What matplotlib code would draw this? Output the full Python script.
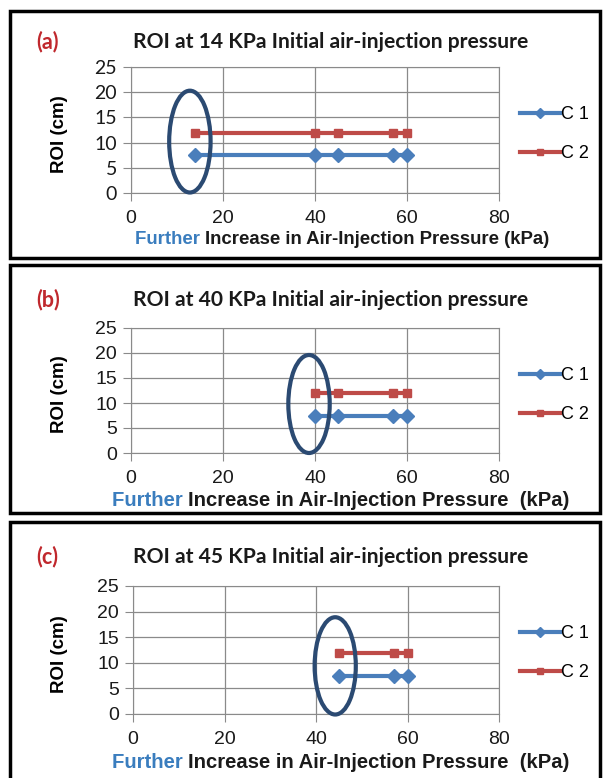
import matplotlib
matplotlib.use("Agg")
import matplotlib.pyplot as plt
from matplotlib.patches import Ellipse, Rectangle

plt.rcParams['font.family'] = ['Liberation Sans', 'DejaVu Sans']

# data
panel_tags = ['(a)', '(b)', '(c)']
initial_kpa = [14, 40, 45]
x_a = [14, 40, 45, 57, 60]
x_b = [40, 45, 57, 60]
x_c = [45, 57, 60]
c1_level = 7.5
c2_level = 12
xticks = [0, 20, 40, 60, 80]
yticks = [0, 5, 10, 15, 20, 25]
# ellipse (center x, center y, width, height) in data units
ellipses = [(12.8, 10.2, 9, 20.2), (38.7, 9.8, 9, 19.6), (44.2, 9.4, 9, 19.0)]

blue = '#4A7EBB'
red = '#BE4B48'
ring = '#2B4A72'
W, H = 605, 778

fig = plt.figure(figsize=(W / 100, H / 100), dpi=100)


def fx(px):
    return px / W


def fy(py):
    return 1 - py / H


def fit(texts, target):
    # scale font size so a run of texts spans target pixels
    fig.canvas.draw()
    r = fig.canvas.get_renderer()
    w = sum(t.get_window_extent(r).width for t in texts)
    for t in texts:
        t.set_fontsize(t.get_fontsize() * target / w)


# pixel layout: (box_top, box_bottom, ax_left, ax_top, ax_bottom, title_y, xlabel_y, xlabel_x, xlabel_w)
layout = [(11, 258, 131, 67, 193, 42, 240, 135, 417),
          (265, 513, 131, 328, 453, 300, 500, 112, 458),
          (522, 781, 133, 586, 714, 557, 762, 112, 458)]
xlabel_kpa = ['Pressure (kPa)', 'Pressure  (kPa)', 'Pressure  (kPa)']

for i, xs in enumerate([x_a, x_b, x_c]):
    bt, bb, al, at, ab, tyy, xly, xlx, xlw = layout[i]
    fig.patches.append(Rectangle((fx(10), fy(bb)), fx(600) - fx(10), fy(bt) - fy(bb),
                                 transform=fig.transFigure, fill=False, lw=2.5,
                                 edgecolor='black', zorder=0))
    ax = fig.add_axes([fx(al), fy(ab), fx(499) - fx(al), fy(at) - fy(ab)])
    ax.plot(xs, [c1_level] * len(xs), color=blue, lw=3, marker='D', ms=7.5,
            label='C 1', zorder=3)
    ax.plot(xs, [c2_level] * len(xs), color=red, lw=3, marker='s', ms=6,
            label='C 2', zorder=3)
    cx, cy, ew, eh = ellipses[i]
    ax.add_patch(Ellipse((cx, cy), ew, eh, fill=False, lw=3, edgecolor=ring, zorder=4,
                         clip_on=False))
    ax.set_xlim(0, 80)
    ax.set_ylim(0, 25)
    ax.set_xticks(xticks)
    ax.set_yticks(yticks)
    ax.grid(True, color='#8a8a8a', lw=0.9)
    ax.set_axisbelow(True)
    for s in ax.spines.values():
        s.set_color('#8a8a8a')
    ax.tick_params(axis='both', colors='#8a8a8a', labelcolor='#1a1a1a', length=6,
                   direction='out', labelsize=14)
    ax.tick_params(axis='x', pad=6, labelfontfamily='Liberation Sans')
    ax.tick_params(axis='y', pad=4, labelfontfamily='Lato' if i == 0 else 'Liberation Sans')
    fig.text(fx(59), fy((at + ab) / 2 + 4), 'ROI (cm)', rotation=90, ha='center',
             va='center', fontsize=13.5, fontweight='bold')
    leg = ax.legend(loc='center left', bbox_to_anchor=(fx(513), fy(at + 67)),
                    bbox_transform=fig.transFigure, frameon=False, fontsize=13,
                    handlelength=2.2, labelspacing=1.2, handletextpad=0.05,
                    borderaxespad=0)
    for h in leg.legend_handles:
        h.set_markersize(5)
    tt = fig.text(fx(133), fy(tyy), 'ROI at %d KPa Initial air-injection pressure' % initial_kpa[i],
                  ha='left', va='center', fontsize=13, fontweight='bold', color='#1a1a1a',
                  family='Lato')
    fit([tt], 394)
    fig.text(fx(36), fy(tyy), panel_tags[i], ha='left', va='center', fontsize=15.5,
             fontweight='bold', color='#C0282D', family='Lato')
    t1 = fig.text(fx(xlx), fy(xly), 'Further ', ha='left', va='center',
                  fontsize=13, fontweight='bold', color='#3A7DBE')
    t2 = fig.text(0, fy(xly), 'Increase in Air-Injection ' + xlabel_kpa[i], ha='left',
                  va='center', fontsize=13, fontweight='bold', color='#1a1a1a')
    fit([t1, t2], xlw)
    fig.canvas.draw()
    b1 = t1.get_window_extent()
    t2.set_x(b1.x1 / fig.bbox.width)

fig.savefig('out.png', dpi=100)
